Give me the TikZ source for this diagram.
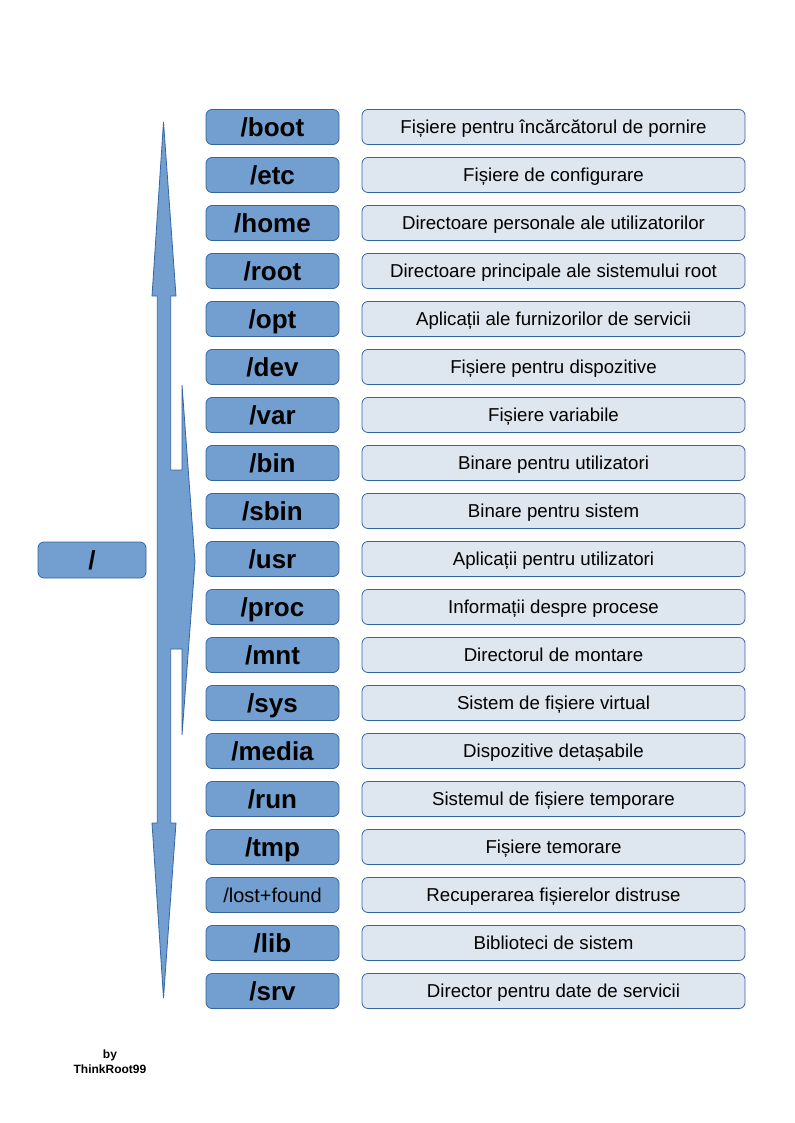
\documentclass[tikz,border=0pt]{standalone}
\usepackage{fontspec}
\setmainfont{Liberation Sans}
\definecolor{boxfill}{HTML}{729FCF}
\definecolor{boxline}{HTML}{3465A4}
\definecolor{descfill}{HTML}{DEE6EF}
\begin{document}
\begin{tikzpicture}[x=0.75pt,y=-0.75pt,
  dirbox/.style={draw=boxline,fill=boxfill,line width=0.6pt,rounded corners=4.5pt,
    minimum width={133*0.75pt},minimum height={35*0.75pt},inner sep=0pt,
    font=\fontsize{19.5pt}{20pt}\selectfont\bfseries,text height=14pt,text depth=0pt},
  smallname/.style={font=\fontsize{15pt}{16pt}\selectfont,text height=10.7pt},
  normalname/.style={},
  descbox/.style={draw=boxline,fill=descfill,line width=0.6pt,rounded corners=4.5pt,
    minimum width={383*0.75pt},minimum height={35*0.75pt},inner sep=0pt,
    font=\fontsize{14pt}{15pt}\selectfont,text height=10pt,text depth=0pt},
  arrowshape/.style={draw=boxline,fill=boxfill,line width=0.6pt,line join=miter}]
\useasboundingbox (0,0) rectangle (794,1123);
% big arrow shape
\draw[arrowshape] (163.5,122) -- (176,296) -- (170.7,296) -- (170.7,470) -- (182,470) -- (182,385)
  -- (195,562) -- (182,735) -- (182,649) -- (170.7,649) -- (170.7,823) -- (176,823)
  -- (163.5,998) -- (152,823) -- (157.3,823) -- (157.3,296) -- (152,296) -- cycle;
% root box
\node[dirbox,minimum width={108*0.75pt},minimum height={36*0.75pt}] (root) at (92,560) {/};
% rows
\foreach \i/\s/\d/\t [count=\n from 0] in {
  boot/normalname/{/boot}/{Fișiere pentru încărcătorul de pornire},
  etc/normalname/{/etc}/{Fișiere de configurare},
  home/normalname/{/home}/{Directoare personale ale utilizatorilor},
  rootdir/normalname/{/root}/{Directoare principale ale sistemului root},
  opt/normalname/{/opt}/{Aplicații ale furnizorilor de servicii},
  dev/normalname/{/dev}/{Fișiere pentru dispozitive},
  var/normalname/{/var}/{Fișiere variabile},
  bin/normalname/{/bin}/{Binare pentru utilizatori},
  sbin/normalname/{/sbin}/{Binare pentru sistem},
  usr/normalname/{/usr}/{Aplicații pentru utilizatori},
  proc/normalname/{/proc}/{Informații despre procese},
  mnt/normalname/{/mnt}/{Directorul de montare},
  sys/normalname/{/sys}/{Sistem de fișiere virtual},
  media/normalname/{/media}/{Dispozitive detașabile},
  run/normalname/{/run}/{Sistemul de fișiere temporare},
  tmp/normalname/{/tmp}/{Fișiere temorare},
  lost/smallname/{/lost+found}/{Recuperarea fișierelor distruse},
  lib/normalname/{/lib}/{Biblioteci de sistem},
  srv/normalname/{/srv}/{Director pentru date de servicii}}
{
  \node[dirbox,\s] (d-\i) at (272.5,{127+48*\n}) {\d};
  \node[descbox] (t-\i) at (553.5,{127+48*\n}) {\t};
}
\node[font=\fontsize{9pt}{11pt}\selectfont\bfseries,align=center,inner sep=0pt] (author) at (110,1062) {by\\ThinkRoot99};
\end{tikzpicture}
\end{document}
